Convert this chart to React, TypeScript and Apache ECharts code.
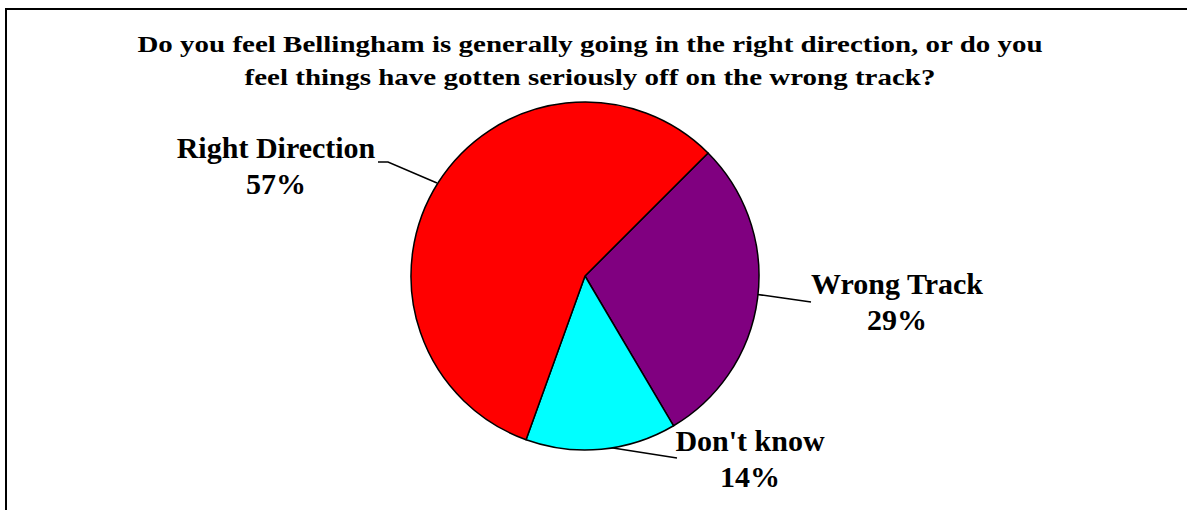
import React, { useEffect, useRef } from "react";
import * as echarts from "echarts";

const titleLines = [
  "Do you feel Bellingham is generally going in the right direction, or do you",
  "feel things have gotten seriously off on the wrong track?",
];
const categories = ["Wrong Track", "Don't know", "Right Direction"];
const values = [29, 14, 57];
const colors = ["#800080", "#00FFFF", "#FF0000"];

// label placement (text block centres and leader points), by category index
const labelCenters: [number, number][] = [
  [897, 301],
  [750, 458],
  [276, 165],
];
const leaderPoints: [number, number][][] = [
  [[754, 294], [783, 298], [811, 302]],
  [[598, 446], [613, 448], [677, 458]],
  [[437, 183], [388, 162], [378, 162]],
];

export default function App() {
  const ref = useRef<HTMLDivElement>(null);
  useEffect(() => {
    document.body.style.margin = "0";
    const chart = echarts.init(ref.current!, undefined, { renderer: "svg" });
    chart.setOption({
      animation: false,
      backgroundColor: "#ffffff",
      graphic: [
        {
          type: "rect",
          shape: { x: 6, y: 9, width: 1200, height: 520 },
          style: { fill: "none", stroke: "#000", lineWidth: 2 },
          silent: true,
        },
        ...titleLines.map((t, i) => ({
          type: "text",
          x: 590,
          y: 44.5 + i * 33,
          scaleX: 1.26,
          silent: true,
          style: {
            text: t,
            align: "center",
            verticalAlign: "middle",
            fontFamily: "Liberation Serif",
            fontWeight: "bold",
            fontSize: 23,
            fill: "#000",
          },
        })),
      ],
      series: [
        {
          type: "pie",
          center: [585, 276],
          radius: 174,
          startAngle: 45,
          clockwise: true,
          data: categories.map((name, i) => ({
            name,
            value: values[i],
            itemStyle: { color: colors[i] },
          })),
          itemStyle: { borderColor: "#000", borderWidth: 1.5 },
          emphasis: { disabled: true },
          label: {
            show: true,
            formatter: (p: any) => `${p.name}\n${p.value}%`,
            fontFamily: "Liberation Serif",
            fontWeight: "bold",
            fontSize: 30,
            lineHeight: 36,
            color: "#000",
            align: "center",
          },
          labelLine: {
            show: true,
            lineStyle: { color: "#000", width: 1.5 },
          },
          labelLayout: (params: any) => {
            const i = params.dataIndex;
            return {
              x: labelCenters[i][0],
              y: labelCenters[i][1],
              align: "center",
              verticalAlign: "middle",
              labelLinePoints: leaderPoints[i],
            };
          },
        },
      ],
    });
    return () => chart.dispose();
  }, []);
  return <div ref={ref} style={{ width: 1187, height: 510 }} />;
}
